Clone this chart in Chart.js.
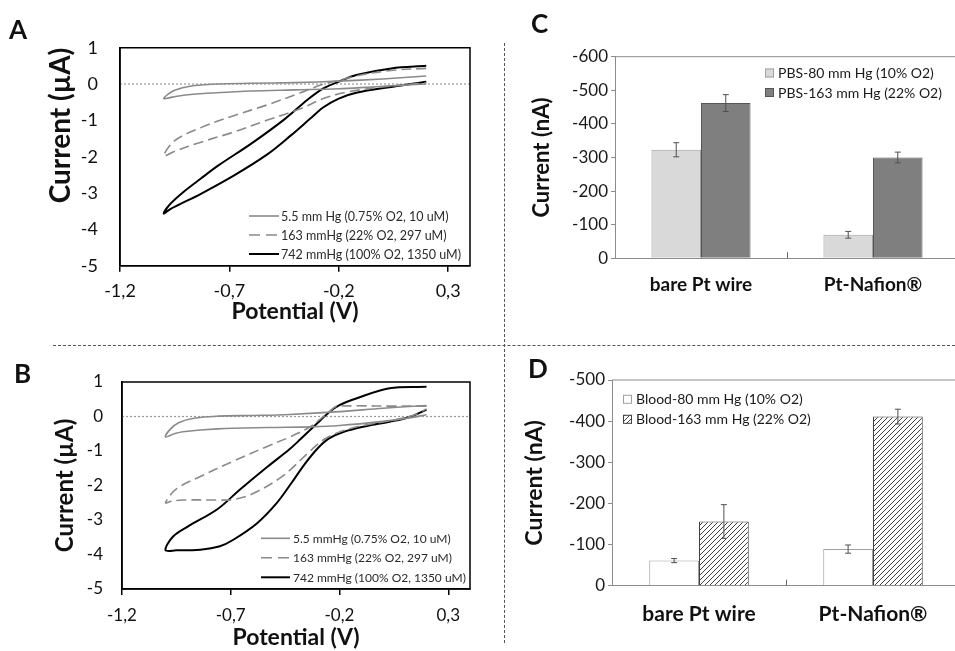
<!DOCTYPE html>
<html lang="en">
<head>
  <meta charset="UTF-8" />
  <title>O2 sensor: cyclic voltammetry and amperometric response</title>
  <script src="https://cdn.jsdelivr.net/npm/chart.js"></script>
  <style>
    body { margin: 0; width: 955px; height: 651px; overflow: hidden; background: #fff; position: relative; font-family: Lato, sans-serif; }
    canvas { position: absolute; }
    .tag { position: absolute; font: bold 26px Lato, sans-serif; line-height: 1; color: #111; }
    .hsep { position: absolute; left: 53px; top: 345px; width: 902px; border-top: 1px dashed #555; }
    .vsep { position: absolute; left: 504px; top: 43px; height: 600px; border-left: 1px dashed #555; }
  </style>
</head>
<body>

  <div class="hsep"></div>
  <div class="vsep"></div>

  <canvas id="chartA" width="480" height="325" style="left:0;top:0"></canvas>
  <canvas id="chartB" width="480" height="316" style="left:0;top:335px"></canvas>
  <canvas id="chartC" width="480" height="320" style="left:480px;top:0"></canvas>
  <canvas id="chartD" width="480" height="321" style="left:480px;top:330px"></canvas>

  <div class="tag" style="left:9px;top:16px">A</div>
  <div class="tag" style="left:14px;top:360px">B</div>
  <div class="tag" style="left:531px;top:10px">C</div>
  <div class="tag" style="left:528px;top:355px">D</div>

  <script>
    // ---- data ----
    const potentialTicks = [-1.2, -0.7, -0.2, 0.3];
    const potentialTickLabels = ['-1,2', '-0,7', '-0,2', '0,3'];

    const cvLabelsA = ['5.5 mm Hg (0.75% O2, 10 uM)', '163 mmHg (22% O2, 297 uM)', '742 mmHg (100% O2, 1350 uM)'];
    const cvLabelsB = ['5.5 mmHg (0.75% O2, 10 uM)', '163 mmHg (22% O2, 297 uM)', '742 mmHg (100% O2, 1350 uM)'];

    // [potential (V), current (uA)] traced along each loop
    const cvA_5 = [[0.2,0.22],[0.0,0.14],[-0.2,0.08],[-0.4,0.04],[-0.6,0.02],[-0.76,0.0],[-0.88,-0.06],[-0.95,-0.17],[-0.98,-0.28],[-1.0,-0.4],
                   [-0.96,-0.36],[-0.9,-0.3],[-0.76,-0.24],[-0.6,-0.19],[-0.4,-0.16],[-0.2,-0.13],[-0.05,-0.08],[0.1,-0.03],[0.2,0.0]];
    const cvA_163 = [[0.2,0.43],[0.05,0.38],[-0.1,0.25],[-0.2,0.1],[-0.27,0.0],[-0.375,-0.24],[-0.53,-0.58],[-0.68,-0.87],[-0.83,-1.2],[-0.95,-1.56],[-1.0,-1.98],
                     [-0.95,-1.85],[-0.83,-1.6],[-0.68,-1.32],[-0.53,-1.0],[-0.375,-0.68],[-0.27,-0.4],[-0.16,-0.22],[0.0,-0.08],[0.2,0.03]];
    const cvA_742 = [[0.2,0.5],[0.04,0.43],[-0.12,0.25],[-0.19,0.09],[-0.27,-0.12],[-0.34,-0.42],[-0.45,-0.98],[-0.6,-1.64],[-0.75,-2.24],[-0.83,-2.6],[-0.91,-2.97],[-0.97,-3.3],[-1.0,-3.56],
                     [-0.97,-3.44],[-0.93,-3.32],[-0.83,-3.02],[-0.68,-2.52],[-0.53,-1.95],[-0.42,-1.42],[-0.33,-0.95],[-0.27,-0.64],[-0.2,-0.4],[-0.12,-0.24],[0.04,-0.08],[0.2,0.06]];

    const cvB_5 = [[0.2,0.32],[0.0,0.24],[-0.2,0.14],[-0.43,0.06],[-0.6,0.03],[-0.76,0.01],[-0.87,-0.05],[-0.94,-0.18],[-0.98,-0.38],[-1.0,-0.59],
                   [-0.96,-0.5],[-0.92,-0.44],[-0.76,-0.36],[-0.53,-0.32],[-0.33,-0.3],[-0.2,-0.26],[0.0,-0.14],[0.12,-0.04],[0.2,0.05]];
    const cvB_163 = [[0.2,0.3],[0.05,0.3],[-0.12,0.31],[-0.2,0.3],[-0.22,0.28],[-0.25,0.12],[-0.29,-0.08],[-0.335,-0.3],[-0.43,-0.6],[-0.53,-0.86],[-0.69,-1.3],[-0.84,-1.74],[-0.95,-2.1],[-1.0,-2.5],
                     [-0.97,-2.45],[-0.92,-2.42],[-0.76,-2.42],[-0.69,-2.41],[-0.6,-2.24],[-0.46,-1.72],[-0.335,-1.0],[-0.27,-0.66],[-0.2,-0.45],[-0.1,-0.27],[0.05,-0.1],[0.15,0.06],[0.2,0.22]];
    const cvB_742 = [[0.2,0.86],[0.03,0.82],[-0.12,0.53],[-0.2,0.33],[-0.245,0.14],[-0.3,-0.18],[-0.38,-0.66],[-0.43,-0.95],[-0.53,-1.45],[-0.66,-2.13],[-0.76,-2.68],[-0.9,-3.2],[-0.965,-3.48],[-1.0,-3.87],
                     [-0.95,-3.88],[-0.84,-3.86],[-0.75,-3.76],[-0.69,-3.58],[-0.58,-3.1],[-0.49,-2.52],[-0.42,-1.92],[-0.36,-1.38],[-0.3,-0.92],[-0.25,-0.64],[-0.18,-0.44],[-0.08,-0.28],[0.03,-0.15],[0.12,-0.02],[0.2,0.2]];

    const electrodes = ['bare Pt wire', 'Pt-Nafion\u00AE'];

    const pbsLabels = ['PBS-80 mm Hg (10% O2)', 'PBS-163 mm Hg (22% O2)'];
    const pbs80 = [-323, -70];
    const pbs80Err = [21, 10];
    const pbs163 = [-462, -300];
    const pbs163Err = [25, 16];

    const bloodLabels = ['Blood-80 mm Hg (10% O2)', 'Blood-163 mm Hg (22% O2)'];
    const blood80 = [-61, -89];
    const blood80Err = [5, 10];
    const blood163 = [-156, -411];
    const blood163Err = [41, 18];

    // ---- helpers ----
    const FONT = 'Lato, sans-serif';
    const lineStyles = [
      { color: '#8a8a8a', width: 1.6, dash: [] },
      { color: '#8a8a8a', width: 1.6, dash: [10, 5] },
      { color: '#000000', width: 2, dash: [] }
    ];

    function hatchPattern() {
      const c = document.createElement('canvas');
      c.width = c.height = 5;
      const g = c.getContext('2d');
      g.fillStyle = '#fff';
      g.fillRect(0, 0, 5, 5);
      g.strokeStyle = '#404040';
      g.lineWidth = 1;
      g.beginPath();
      g.moveTo(0, 5); g.lineTo(5, 0);
      g.moveTo(-1, 1); g.lineTo(1, -1);
      g.moveTo(4, 6); g.lineTo(6, 4);
      g.stroke();
      return g.createPattern(c, 'repeat');
    }

    const framePlugin = {
      id: 'frame',
      afterDatasetsDraw(chart, args, opts) {
        const { ctx, chartArea: a } = chart;
        ctx.save();
        ctx.strokeStyle = opts.color;
        ctx.lineWidth = opts.width;
        ctx.beginPath();
        if (opts.box) {
          ctx.rect(a.left, a.top, a.right - a.left, a.bottom - a.top);
        } else {
          ctx.moveTo(a.left, a.top);
          ctx.lineTo(a.right, a.top);
        }
        ctx.stroke();
        ctx.restore();
      }
    };

    const zeroLinePlugin = {
      id: 'zeroLine',
      beforeDatasetsDraw(chart) {
        const { ctx, chartArea: a, scales: { y } } = chart;
        const py = y.getPixelForValue(0);
        ctx.save();
        ctx.strokeStyle = '#999';
        ctx.lineWidth = 1.2;
        ctx.setLineDash([2, 2]);
        ctx.beginPath();
        ctx.moveTo(a.left, py);
        ctx.lineTo(a.right, py);
        ctx.stroke();
        ctx.restore();
      }
    };

    const insetLegendPlugin = {
      id: 'insetLegend',
      afterDraw(chart, args, o) {
        const ctx = chart.ctx;
        ctx.save();
        ctx.font = o.font;
        ctx.textBaseline = 'middle';
        ctx.textAlign = 'left';
        chart.data.datasets.forEach((ds, i) => {
          const y = o.y + i * o.dy;
          if (o.kind === 'line') {
            ctx.strokeStyle = ds.borderColor;
            ctx.lineWidth = ds.borderWidth;
            ctx.setLineDash(ds.borderDash && ds.borderDash.length ? [11, 6] : []);
            ctx.beginPath();
            ctx.moveTo(o.x, y);
            ctx.lineTo(o.x + o.len, y);
            ctx.stroke();
            ctx.setLineDash([]);
          } else {
            ctx.fillStyle = ds.backgroundColor;
            ctx.fillRect(o.x, y - o.len / 2, o.len, o.len);
            ctx.strokeStyle = ds.borderColor;
            ctx.lineWidth = 1;
            ctx.strokeRect(o.x + 0.5, y - o.len / 2 + 0.5, o.len - 1, o.len - 1);
          }
          ctx.fillStyle = o.color;
          ctx.fillText(ds.label, o.x + o.len + o.gap, y + 0.5);
        });
        ctx.restore();
      }
    };

    const errorBarPlugin = {
      id: 'errorBars',
      afterDatasetsDraw(chart) {
        const { ctx, scales: { y } } = chart;
        ctx.save();
        ctx.strokeStyle = '#505050';
        ctx.lineWidth = 1;
        chart.data.datasets.forEach((ds, i) => {
          chart.getDatasetMeta(i).data.forEach((bar, j) => {
            const v = ds.data[j], e = ds.errors[j];
            const y1 = y.getPixelForValue(v - e), y2 = y.getPixelForValue(v + e);
            ctx.beginPath();
            ctx.moveTo(bar.x, y1); ctx.lineTo(bar.x, y2);
            ctx.moveTo(bar.x - 3, y1); ctx.lineTo(bar.x + 3, y1);
            ctx.moveTo(bar.x - 3, y2); ctx.lineTo(bar.x + 3, y2);
            ctx.stroke();
          });
        });
        ctx.restore();
      }
    };

    const midTickPlugin = {
      id: 'midTick',
      afterDatasetsDraw(chart) {
        const { ctx, scales: { x, y } } = chart;
        const px = Math.round((x.getPixelForTick(0) + x.getPixelForTick(1)) / 2) + 0.5;
        const base = y.getPixelForValue(0);
        ctx.save();
        ctx.strokeStyle = '#666';
        ctx.lineWidth = 1;
        ctx.beginPath();
        ctx.moveTo(px, base);
        ctx.lineTo(px, base - 6);
        ctx.stroke();
        ctx.restore();
      }
    };

    function cvChart(id, series, labels, g) {
      return new Chart(document.getElementById(id), {
        type: 'scatter',
        data: {
          datasets: series.map((pts, i) => ({
            label: labels[i],
            data: pts.map(p => ({ x: p[0], y: p[1] })),
            showLine: true,
            pointRadius: 0,
            tension: 0.35,
            fill: false,
            borderColor: lineStyles[i].color,
            borderWidth: lineStyles[i].width,
            borderDash: lineStyles[i].dash
          }))
        },
        options: {
          responsive: false,
          animation: false,
          devicePixelRatio: 1,
          layout: { padding: g.padding },
          plugins: {
            legend: { display: false },
            tooltip: { enabled: false },
            frame: { box: true, color: '#000', width: 1.5 },
            insetLegend: g.legend
          },
          scales: {
            x: {
              type: 'linear',
              min: -1.2,
              max: 0.4,
              afterBuildTicks: s => { s.ticks = potentialTicks.map(v => ({ value: v })); },
              afterFit: s => { s.height = g.xHeight; },
              ticks: {
                callback: (v, i) => potentialTickLabels[i],
                font: { family: FONT, size: g.tickSize },
                color: '#111',
                padding: g.xPad,
                maxRotation: 0,
                autoSkip: false
              },
              grid: { display: true, drawOnChartArea: false, drawTicks: true, tickLength: 6, color: '#000', lineWidth: 1.5 },
              border: { display: true, color: '#000', width: 1.5 },
              title: { display: true, text: 'Potential (V)', color: '#111', padding: 0, font: { family: FONT, size: 23, weight: 'bold' } }
            },
            y: {
              min: -5,
              max: 1,
              afterFit: s => { s.width = g.yWidth; },
              ticks: { stepSize: 1, font: { family: FONT, size: g.tickSize }, color: '#111', padding: g.yPad },
              grid: { display: false, drawTicks: false },
              border: { display: true, color: '#000', width: 1.5 },
              title: { display: true, text: 'Current (\u00B5A)', color: '#111', padding: 0, align: g.yTitleAlign, font: { family: FONT, size: g.yTitleSize, weight: 'bold' } }
            }
          }
        },
        plugins: [framePlugin, zeroLinePlugin, insetLegendPlugin]
      });
    }

    function barChart(id, sets, g) {
      return new Chart(document.getElementById(id), {
        type: 'bar',
        data: { labels: electrodes, datasets: sets },
        options: {
          responsive: false,
          animation: false,
          devicePixelRatio: 1,
          layout: { padding: g.padding },
          datasets: { bar: { barPercentage: 1, categoryPercentage: g.catPct } },
          plugins: {
            legend: { display: false },
            tooltip: { enabled: false },
            frame: { box: false, color: '#8c8c8c', width: 1 },
            insetLegend: g.legend
          },
          scales: {
            x: {
              afterFit: s => { s.height = g.xHeight; },
              ticks: { font: { family: FONT, size: g.catSize, weight: 'bold' }, color: '#111', padding: g.xPad },
              grid: { display: false, drawTicks: false },
              border: { display: true, color: '#8c8c8c', width: 1 }
            },
            y: {
              min: g.yMin,
              max: 0,
              reverse: true,
              afterFit: s => { s.width = g.yWidth; },
              ticks: { stepSize: 100, font: { family: FONT, size: 17 }, color: '#1a1a1a', padding: 3 },
              grid: { display: true, drawOnChartArea: false, drawTicks: true, tickLength: 4, color: '#8c8c8c' },
              border: { display: true, color: '#8c8c8c', width: 1 },
              title: { display: true, text: 'Current (nA)', color: '#111', padding: 0, font: { family: FONT, size: g.yTitleSize, weight: 'bold' } }
            }
          }
        },
        plugins: [framePlugin, errorBarPlugin, midTickPlugin, insetLegendPlugin]
      });
    }

    cvChart('chartA', [cvA_5, cvA_163, cvA_742], cvLabelsA, {
      padding: { left: 44, right: 10, top: 47.7, bottom: 0 },
      yWidth: 76, xHeight: 59.3, tickSize: 18, xPad: 9, yPad: 22,
      yTitleSize: 28, yTitleAlign: 'end',
      legend: { kind: 'line', x: 249, y: 216, dy: 19, len: 30, gap: 2, font: '12.5px ' + FONT, color: '#2a2a2a' }
    });

    cvChart('chartB', [cvB_5, cvB_163, cvB_742], cvLabelsB, {
      padding: { left: 51, right: 10, top: 47, bottom: 0 },
      yWidth: 71, xHeight: 62, tickSize: 17, xPad: 10, yPad: 19,
      yTitleSize: 24, yTitleAlign: 'center',
      legend: { kind: 'line', x: 261, y: 203.3, dy: 19.5, len: 29, gap: 3, font: '12px ' + FONT, color: '#2a2a2a' }
    });

    barChart('chartC', [
      { label: pbsLabels[0], data: pbs80, errors: pbs80Err, backgroundColor: '#d9d9d9', borderColor: '#a0a0a0', borderWidth: 1 },
      { label: pbsLabels[1], data: pbs163, errors: pbs163Err, backgroundColor: '#7f7f7f', borderColor: '#555555', borderWidth: 1 }
    ], {
      padding: { left: 49, right: 1, top: 56.7, bottom: 0 },
      yWidth: 86, xHeight: 61.7, xPad: 15, catSize: 19, catPct: 0.576, yMin: -600, yTitleSize: 22,
      legend: { kind: 'box', x: 285, y: 73, dy: 19.5, len: 9, gap: 4, font: '14px ' + FONT, color: '#1a1a1a' }
    });

    barChart('chartD', [
      { label: bloodLabels[0], data: blood80, errors: blood80Err, backgroundColor: '#ffffff', borderColor: '#a0a0a0', borderWidth: 1 },
      { label: bloodLabels[1], data: blood163, errors: blood163Err, backgroundColor: hatchPattern(), borderColor: '#404040', borderWidth: 1 }
    ], {
      padding: { left: 41, right: 0, top: 50, bottom: 0 },
      yWidth: 91, xHeight: 65.3, xPad: 16, catSize: 21, catPct: 0.572, yMin: -500, yTitleSize: 23,
      legend: { kind: 'box', x: 143, y: 69.3, dy: 20, len: 9, gap: 4, font: '14px ' + FONT, color: '#1a1a1a' }
    });
  </script>

</body>
</html>
